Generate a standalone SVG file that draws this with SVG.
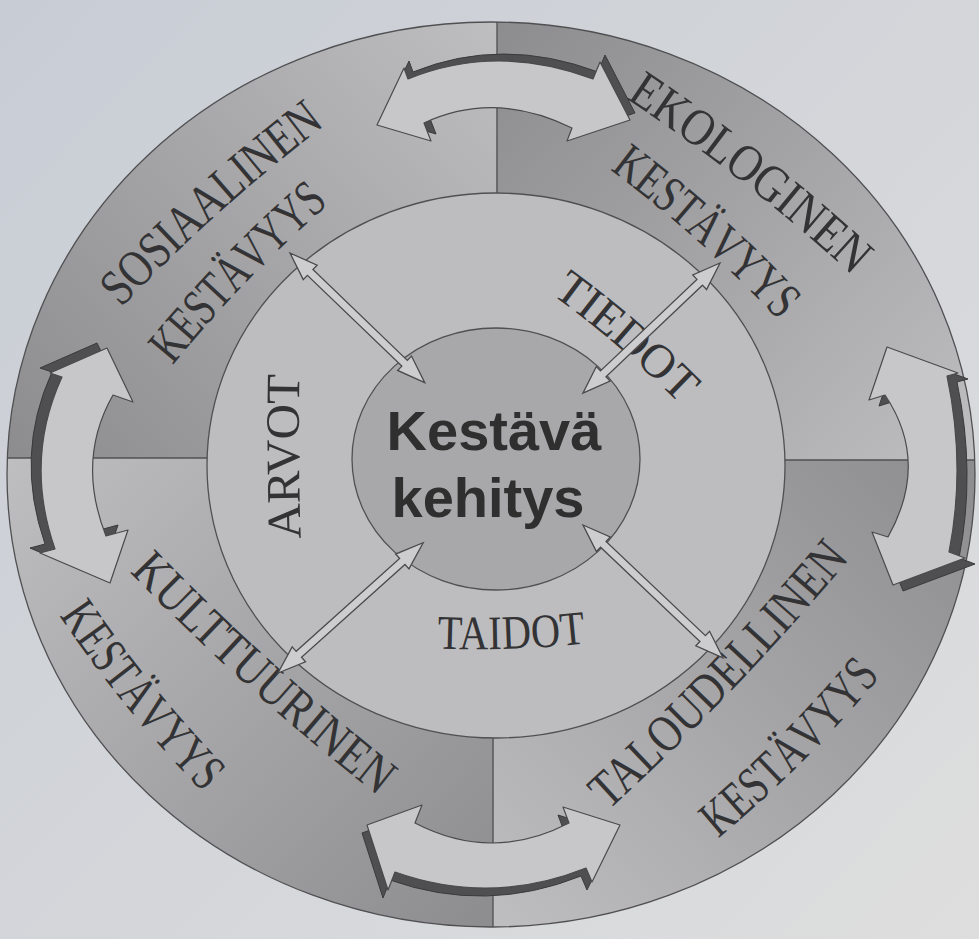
<svg xmlns="http://www.w3.org/2000/svg" xmlns:xlink="http://www.w3.org/1999/xlink" width="979" height="939" viewBox="0 0 979 939">
<defs>
<style>
.edge{stroke:#505052;stroke-width:1.3;fill:none}
.lbl{font-family:"Liberation Serif","Times New Roman",serif;fill:#333335}
.o{font-size:52px}
.i{font-size:48px}
.ctr{font-family:"Liberation Sans",Arial,sans-serif;font-weight:bold;font-size:56px;fill:#2f2f30}
.carrow{fill:#c7c7c9;stroke:#4a4a4c;stroke-width:1.2;stroke-linejoin:round}
.shadow{fill:#4f4f51;stroke:#3a3a3c;stroke-width:1;stroke-linejoin:round}
.sarrow{fill:#cdcdcf;stroke:#4a4a4c;stroke-width:1.3;stroke-linejoin:miter}
</style>
<linearGradient id="bg" x1="0" y1="0" x2="979" y2="939" gradientUnits="userSpaceOnUse">
<stop offset="0" stop-color="#c8cdd5"/><stop offset="1" stop-color="#dedede"/>
</linearGradient>
<linearGradient id="gTL" x1="15" y1="455" x2="495" y2="25" gradientUnits="userSpaceOnUse">
<stop offset="0" stop-color="#8d8d8f"/><stop offset="0.5" stop-color="#a5a5a7"/><stop offset="1" stop-color="#bebec0"/>
</linearGradient>
<linearGradient id="gTR" x1="500" y1="25" x2="975" y2="455" gradientUnits="userSpaceOnUse">
<stop offset="0" stop-color="#8d8d8f"/><stop offset="0.5" stop-color="#a5a5a7"/><stop offset="1" stop-color="#bebec0"/>
</linearGradient>
<linearGradient id="gBR" x1="975" y1="462" x2="496" y2="925" gradientUnits="userSpaceOnUse">
<stop offset="0" stop-color="#8d8d8f"/><stop offset="0.5" stop-color="#a5a5a7"/><stop offset="1" stop-color="#bebec0"/>
</linearGradient>
<linearGradient id="gBL" x1="490" y1="925" x2="10" y2="462" gradientUnits="userSpaceOnUse">
<stop offset="0" stop-color="#8d8d8f"/><stop offset="0.5" stop-color="#a5a5a7"/><stop offset="1" stop-color="#bebec0"/>
</linearGradient>
<clipPath id="cTL"><polygon points="0,0 497,0 495,459 0,458"/></clipPath>
<clipPath id="cTR"><polygon points="497,0 979,0 979,460 495,459"/></clipPath>
<clipPath id="cBR"><polygon points="495,459 979,460 979,939 493,939"/></clipPath>
<clipPath id="cBL"><polygon points="0,458 495,459 493,939 0,939"/></clipPath>
<path id="p1" d="M88,317 Q202,193 338,93"/>
<path id="p2" d="M140,377 Q229,263 340,171"/>
<path id="p3" d="M611,67 Q759,162 887,283"/>
<path id="p4" d="M597,138 Q715,222 812,330"/>
<path id="p5" d="M574,817 Q726,682 855,524"/>
<path id="p6" d="M684,843 Q796,754 885,642"/>
<path id="p7" d="M122,538 Q257,681 413,800"/>
<path id="p8" d="M58,581 Q135,701 237,801"/>
<path id="p9" d="M285,565 Q280,456 283,348"/>
<path id="p10" d="M538,264 Q633,329 712,413"/>
<path id="p11" d="M410,630 Q511,637 612,623"/>
<path id="arTop" d="M377,125 L404,68 L408,79 Q497,43 593,79 L600,62 L630,120 L567,141 L572,128 Q495,90 424,123 L431,141 Z"/>
<path id="arRight" d="M887,347 L958,373 L947,376 Q966,466 949,552 L965,558 L893,585 L872,532 L888,537 Q930,462 885,395 L869,400 Z"/>
<path id="arBottom" d="M367,825 L422,805 L415,823 Q492,863 569,823 L563,807 L620,825 L592,882 L586,868 Q491,906 395,872 L388,890 Z"/>
<path id="arLeft" d="M107,348 L133,402 L113,395 Q76,460 106,536 L128,530 L110,583 L40,553 L55,549 Q24,460 62,377 L50,373 Z"/>
</defs>

<rect x="0" y="0" width="979" height="939" fill="url(#bg)"/>

<g id="outer-ring">
<ellipse cx="491" cy="474.5" rx="484" ry="452.5" fill="url(#gTL)" clip-path="url(#cTL)"/>
<ellipse cx="491" cy="474.5" rx="484" ry="452.5" fill="url(#gTR)" clip-path="url(#cTR)"/>
<ellipse cx="491" cy="474.5" rx="484" ry="452.5" fill="url(#gBR)" clip-path="url(#cBR)"/>
<ellipse cx="491" cy="474.5" rx="484" ry="452.5" fill="url(#gBL)" clip-path="url(#cBL)"/>
<ellipse class="edge" cx="491" cy="474.5" rx="484" ry="452.5"/>
<line class="edge" x1="497" y1="22" x2="497" y2="194"/>
<line class="edge" x1="493" y1="737" x2="493" y2="927"/>
<line class="edge" x1="7" y1="458" x2="208" y2="458"/>
<line class="edge" x1="784" y1="460" x2="975" y2="460"/>
</g>

<g id="middle-ring">
<ellipse cx="496" cy="465.5" rx="289" ry="272.5" fill="#bdbdbf" stroke="#505052" stroke-width="1.3"/>
</g>

<g id="center">
<ellipse cx="496" cy="459" rx="144" ry="131" fill="#a8a8aa" stroke="#505052" stroke-width="1.3"/>
<text class="ctr" x="494" y="450" text-anchor="middle">Kestävä</text>
<text class="ctr" x="488" y="517" text-anchor="middle">kehitys</text>
</g>

<g id="sosiaalinen">
<text class="lbl o" dominant-baseline="central"><textPath href="#p1" startOffset="50%" text-anchor="middle" textLength="277" lengthAdjust="spacingAndGlyphs">SOSIAALINEN</textPath></text>
<text class="lbl o" dominant-baseline="central"><textPath href="#p2" startOffset="50%" text-anchor="middle" textLength="228" lengthAdjust="spacingAndGlyphs">KESTÄVYYS</textPath></text>
</g>
<g id="ekologinen">
<text class="lbl o" dominant-baseline="central"><textPath href="#p3" startOffset="50%" text-anchor="middle" textLength="291" lengthAdjust="spacingAndGlyphs">EKOLOGINEN</textPath></text>
<text class="lbl o" dominant-baseline="central"><textPath href="#p4" startOffset="50%" text-anchor="middle" textLength="230" lengthAdjust="spacingAndGlyphs">KESTÄVYYS</textPath></text>
</g>
<g id="taloudellinen">
<text class="lbl o" dominant-baseline="central"><textPath href="#p5" startOffset="50%" text-anchor="middle" textLength="347" lengthAdjust="spacingAndGlyphs">TALOUDELLINEN</textPath></text>
<text class="lbl o" dominant-baseline="central"><textPath href="#p6" startOffset="50%" text-anchor="middle" textLength="227" lengthAdjust="spacingAndGlyphs">KESTÄVYYS</textPath></text>
</g>
<g id="kulttuurinen">
<text class="lbl o" dominant-baseline="central"><textPath href="#p7" startOffset="50%" text-anchor="middle" textLength="333" lengthAdjust="spacingAndGlyphs">KULTTUURINEN</textPath></text>
<text class="lbl o" dominant-baseline="central"><textPath href="#p8" startOffset="50%" text-anchor="middle" textLength="226" lengthAdjust="spacingAndGlyphs">KESTÄVYYS</textPath></text>
</g>
<g id="arvot">
<text class="lbl i" dominant-baseline="central"><textPath href="#p9" startOffset="50%" text-anchor="middle" textLength="165" lengthAdjust="spacingAndGlyphs">ARVOT</textPath></text>
</g>
<g id="tiedot">
<text class="lbl i" dominant-baseline="central"><textPath href="#p10" startOffset="50%" text-anchor="middle" textLength="172" lengthAdjust="spacingAndGlyphs">TIEDOT</textPath></text>
</g>
<g id="taidot">
<text class="lbl i" dominant-baseline="central"><textPath href="#p11" startOffset="50%" text-anchor="middle" textLength="147" lengthAdjust="spacingAndGlyphs">TAIDOT</textPath></text>
</g>

<g id="connectors">
<path class="sarrow" transform="translate(290,253) rotate(43.9)" d="M0,0 L28,-10 L28,-4 L159,-4 L159,-10 L187,0 L159,10 L159,4 L28,4 L28,10 Z"/>
<path class="sarrow" transform="translate(720,263) rotate(136.5)" d="M0,0 L28,-10 L28,-4 L161,-4 L161,-10 L189,0 L161,10 L161,4 L28,4 L28,10 Z"/>
<path class="sarrow" transform="translate(278,673) rotate(-41.9)" d="M0,0 L28,-10 L28,-4 L167,-4 L167,-10 L195,0 L167,10 L167,4 L28,4 L28,10 Z"/>
<path class="sarrow" transform="translate(583,525) rotate(43.5)" d="M0,0 L28,-10 L28,-4 L165,-4 L165,-10 L193,0 L165,10 L165,4 L28,4 L28,10 Z"/>
<use href="#arTop" class="shadow" transform="translate(5,-7)"/>
<use href="#arTop" class="carrow"/>
<use href="#arRight" class="shadow" transform="translate(10,6)"/>
<use href="#arRight" class="carrow"/>
<use href="#arBottom" class="shadow" transform="translate(-5,8)"/>
<use href="#arBottom" class="carrow"/>
<use href="#arLeft" class="shadow" transform="translate(-10,-5)"/>
<use href="#arLeft" class="carrow"/>
</g>
</svg>
